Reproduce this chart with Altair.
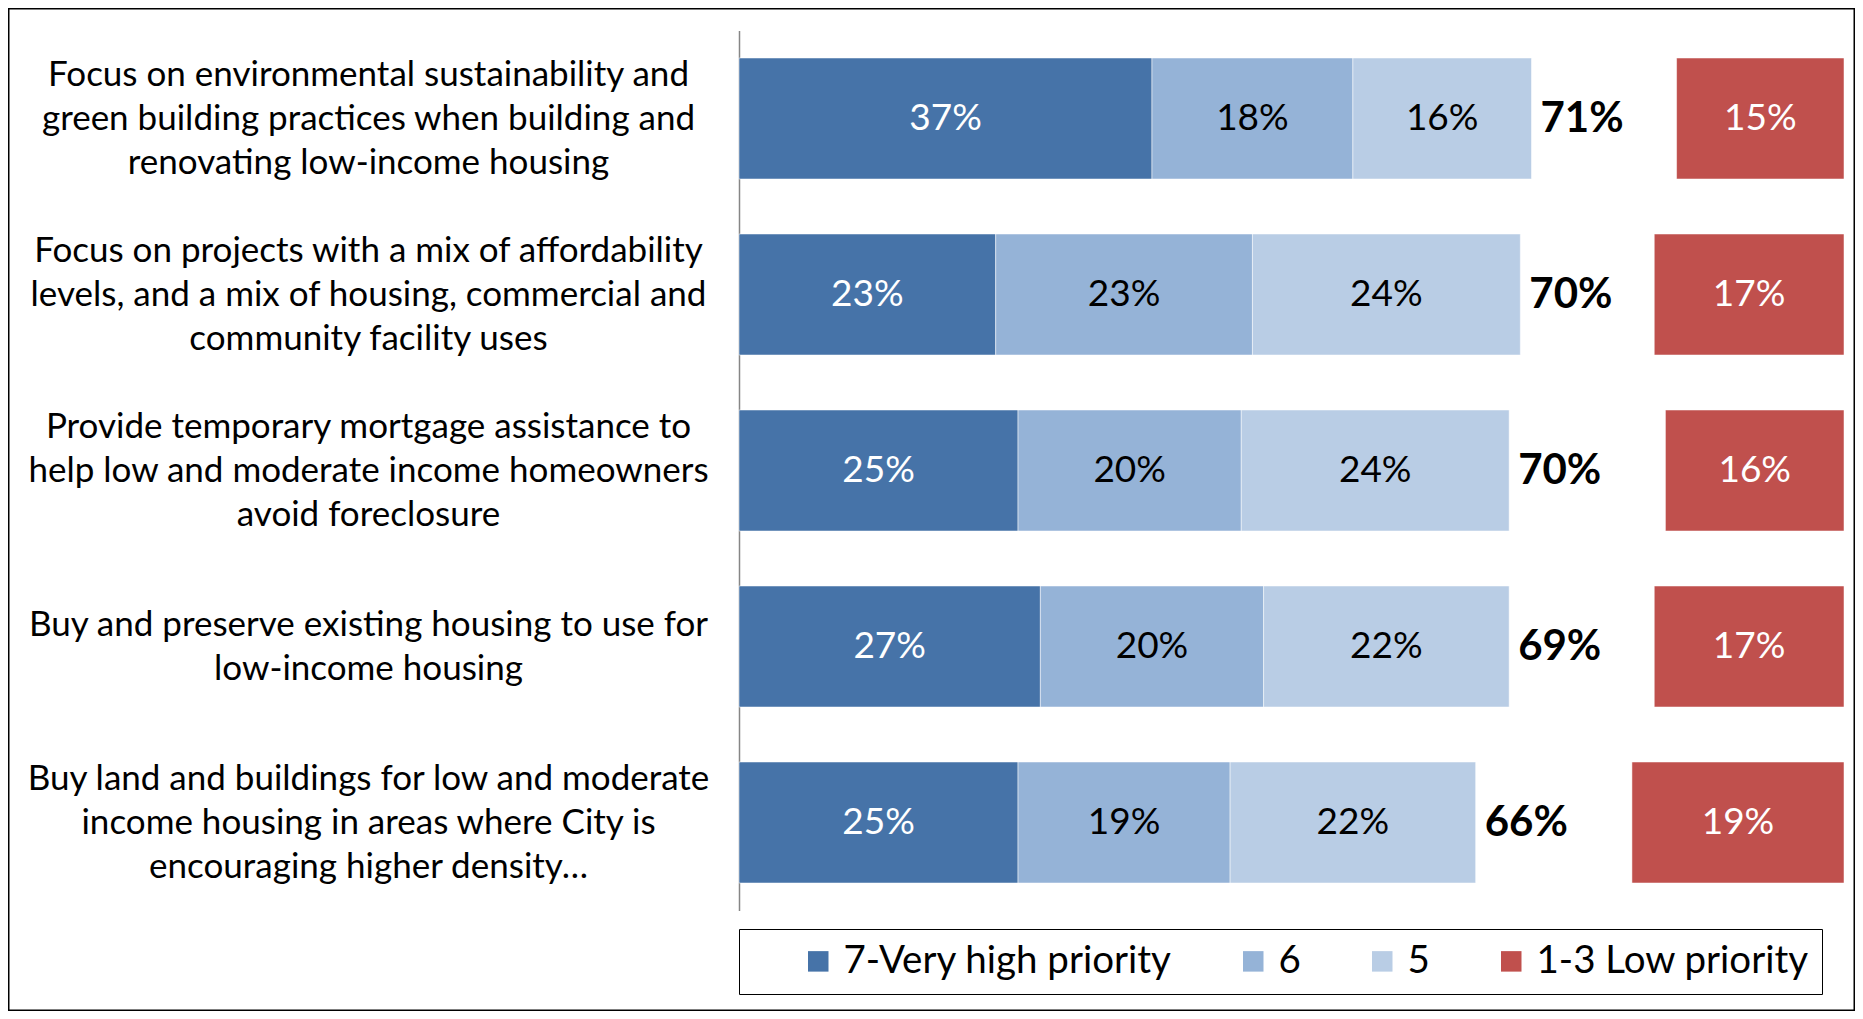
import altair as alt
import pandas as pd

categories = [
    "Focus on environmental sustainability and|green building practices when building and|renovating low-income housing",
    "Focus on projects with a mix of affordability|levels, and a mix of housing, commercial and|community facility uses",
    "Provide temporary mortgage assistance to|help low and moderate income homeowners|avoid foreclosure",
    "Buy and preserve existing housing to use for|low-income housing",
    "Buy land and buildings for low and moderate|income housing in areas where City is|encouraging higher density\u2026",
]
series_names = ["7-Very high priority", "6", "5", "1-3 Low priority"]
very_high = [37, 23, 25, 27, 25]
six = [18, 23, 20, 20, 19]
five = [16, 24, 24, 22, 22]
low = [15, 17, 16, 17, 19]
totals = [71, 70, 70, 69, 66]
colors = ["#4673A8", "#95B3D7", "#B9CDE5", "#C0504D"]

AXIS_MAX = 99
FONT = "Lato"

rows = []
tot_rows = []
for i, cat in enumerate(categories):
    start = 0
    for s, vals in zip(series_names[:3], [very_high, six, five]):
        v = vals[i]
        rows.append({"cat": cat, "series": s, "value": v, "x0": start, "x1": start + v})
        start += v
    rows.append({"cat": cat, "series": series_names[3], "value": low[i],
                 "x0": AXIS_MAX - low[i], "x1": AXIS_MAX})
    tot_rows.append({"cat": cat, "end": start, "total": totals[i]})

df = pd.DataFrame(rows)
df["mid"] = (df["x0"] + df["x1"]) / 2
df["label"] = df["value"].astype(str) + "%"
tdf = pd.DataFrame(tot_rows)
tdf["label"] = tdf["total"].astype(str) + "%"

xscale = alt.Scale(domain=[0, AXIS_MAX], range=[731, 1836], nice=False, zero=False)
yscale = alt.Scale(domain=categories, range=[22.5, 902.5], paddingInner=0.3125, paddingOuter=0.15625)

yaxis = alt.Axis(
    orient="left", offset=-731, title=None, ticks=False,
    domainColor="#868686", domainWidth=1.5,
    labelExpr="split(datum.label, '|')",
    labelAlign="center", labelBaseline="middle", labelPadding=371,
    labelFontSize=35, labelFont=FONT, labelColor="black",
    labelLineHeight=44, labelLimit=800,
    labelOffset={"condition": {"test": "length(split(datum.value, '|')) == 3", "value": -44}, "value": -22},
)

y = alt.Y("cat:N", sort=categories, scale=yscale, axis=yaxis)

bars = alt.Chart(df).mark_bar(stroke="white", strokeWidth=0.5).encode(
    x=alt.X("x0:Q", scale=xscale, axis=None),
    x2="x1:Q",
    y=y,
    color=alt.Color(
        "series:N",
        scale=alt.Scale(domain=series_names, range=colors),
        sort=series_names,
        legend=alt.Legend(
            orient="none", legendX=731, legendY=921, direction="horizontal",
            columns=4, title=" ", titleOrient="left", titlePadding=47, titleFontSize=8,
            symbolType="square", symbolSize=420, symbolStrokeWidth=0,
            labelFontSize=38.5, labelFont=FONT, labelColor="black", labelOffset=6, labelLimit=600,
            columnPadding=62, padding=13, strokeColor="black", fillColor="white",
        ),
    ),
)

seg_text = alt.Chart(df).mark_text(fontSize=37, font=FONT, baseline="middle", align="center").encode(
    x=alt.X("mid:Q", scale=xscale, axis=None),
    y=y,
    text="label:N",
    color=alt.condition("datum.series == '6' || datum.series == '5'", alt.value("black"), alt.value("white")),
)

tot_text = alt.Chart(tdf).mark_text(fontSize=42, font=FONT, fontWeight="bold", baseline="middle",
                                    align="left", dx=9, color="black").encode(
    x=alt.X("end:Q", scale=xscale, axis=None),
    y=y,
    text="label:N",
)

chart = alt.layer(bars, seg_text, tot_text).properties(
    width=1847, height=1003, autosize=alt.AutoSizeParams(type="none"), padding=0,
).configure(background="white").configure_view(stroke="black", strokeWidth=3)

chart.save("out.html", embed_options={"renderer": "svg", "actions": False})
